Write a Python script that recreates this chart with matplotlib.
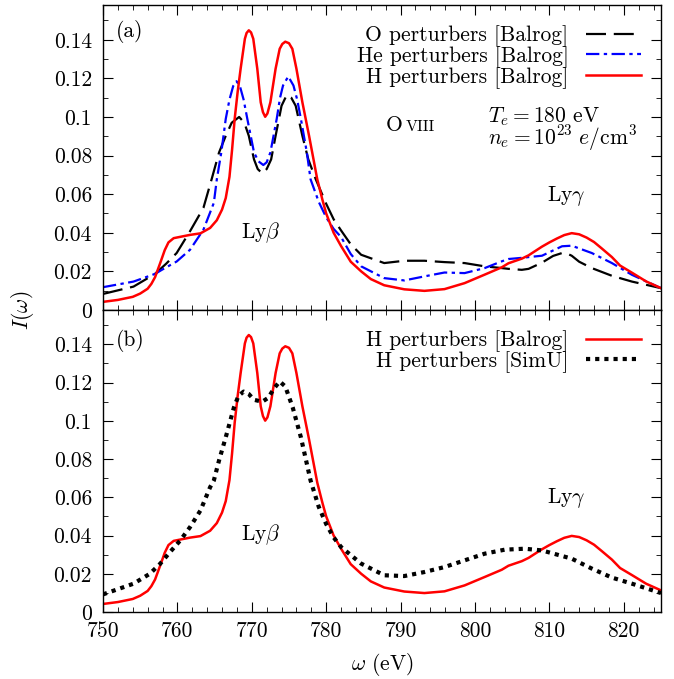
import numpy as np
import matplotlib
matplotlib.use("Agg")
import matplotlib.pyplot as plt
from matplotlib.ticker import MultipleLocator, FuncFormatter

# values
# H perturbers [Balrog] (same curve in both panels)
w_h = [750, 752, 754, 755, 756, 756.5, 757, 757.7, 758.3, 758.8, 759.5, 760.4, 761.7, 763.1,
       764.4, 765.3, 766, 766.5, 767, 767.35, 767.7, 768.1, 768.5, 769.07, 769.3, 769.6,
       769.9, 770.2, 770.74, 771.2, 771.5, 771.8, 772.1, 772.5, 773.2, 773.75, 774.1, 774.5,
       775, 775.45, 776, 776.8, 777.7, 778.8, 779.5, 780, 781, 782, 783.3, 784.7, 786, 787.8,
       790.5, 793.2, 795.9, 798.6, 801.3, 803.6, 804.5, 806.3, 807.2, 809, 810, 811, 812, 813,
       814, 815, 816, 817, 818.4, 819.5, 821.1, 823, 825]
i_h = [0.0042, 0.0052, 0.0068, 0.0085, 0.011, 0.0135, 0.017, 0.0244, 0.031, 0.035, 0.0372,
       0.0379, 0.0389, 0.0397, 0.0425, 0.0465, 0.052, 0.058, 0.069, 0.083, 0.099, 0.113, 0.125,
       0.1405, 0.1435, 0.1449, 0.1438, 0.1405, 0.125, 0.1076, 0.1025, 0.1001, 0.1018, 0.1076,
       0.125, 0.1353, 0.1378, 0.139, 0.1382, 0.1353, 0.125, 0.1076, 0.0902, 0.0677, 0.057,
       0.050, 0.040, 0.0331, 0.025, 0.020, 0.016, 0.0128, 0.0107, 0.0099, 0.0108, 0.0139,
       0.0183, 0.0221, 0.0242, 0.0266, 0.0283, 0.0328, 0.035, 0.037, 0.0388, 0.0398, 0.0392,
       0.0375, 0.0352, 0.032, 0.0274, 0.023, 0.0193, 0.0148, 0.0113]

# O perturbers [Balrog]
w_o = [750, 754.1, 757, 758.5, 759.9, 761.7, 763.5, 764.6, 765.6, 766.5, 767.3, 768.3, 769,
       769.6, 770.3, 770.8, 771.4, 772, 772.6, 773.2, 774, 774.7, 775.3, 775.9, 776.8, 777.6,
       778.6, 780, 781, 782, 783.3, 784.7, 787.8, 790.5, 793.2, 795.9, 798.6, 801.3, 803.6,
       804.5, 806.3, 807.2, 809, 810.5, 811.7, 812.5, 813, 814, 815.7, 818.4, 821.1, 825]
i_o = [0.0083, 0.0121, 0.0187, 0.024, 0.0295, 0.0408, 0.0529, 0.0677, 0.0816, 0.0902, 0.097,
       0.100, 0.097, 0.0902, 0.078, 0.073, 0.0708, 0.073, 0.078, 0.0902, 0.1058, 0.1114,
       0.110, 0.1058, 0.0902, 0.078, 0.0677, 0.055, 0.047, 0.0412, 0.034, 0.0286, 0.0243,
       0.0255, 0.0255, 0.0248, 0.0243, 0.0226, 0.0217, 0.0213, 0.0208, 0.0213, 0.0245, 0.028,
       0.0295, 0.029, 0.0281, 0.025, 0.0217, 0.0177, 0.0147, 0.0113]

# He perturbers [Balrog]
w_he = [750, 754.1, 757, 758, 759.9, 761.7, 763.5, 764.9, 765.3, 765.9, 766.5, 767, 767.5,
        767.95, 768.4, 768.9, 769.4, 770.3, 770.9, 771.55, 772, 772.5, 773.35, 773.8, 774.2,
        774.9, 775.6, 776.1, 776.6, 777.4, 777.9, 779, 780, 781, 782, 783.3, 784.7, 787.8,
        790.5, 793.2, 795.9, 798.6, 801.3, 803.6, 804.5, 806.3, 807.2, 809, 811.7, 813, 815.7,
        818.4, 821.1, 825]
i_he = [0.0118, 0.0147, 0.0187, 0.021, 0.0251, 0.0312, 0.0416, 0.0555, 0.0677, 0.0816, 0.099,
        0.109, 0.116, 0.1185, 0.116, 0.109, 0.099, 0.0816, 0.077, 0.0751, 0.0765, 0.0816,
        0.099, 0.110, 0.1163, 0.121, 0.1163, 0.109, 0.099, 0.0816, 0.0677, 0.056, 0.048,
        0.042, 0.0378, 0.029, 0.0226, 0.0165, 0.0153, 0.0174, 0.0194, 0.0191, 0.0217, 0.0252,
        0.0264, 0.0270, 0.0274, 0.0281, 0.033, 0.0333, 0.0295, 0.0243, 0.0182, 0.0113]

# H perturbers [SimU]
w_s = [750, 754.1, 756.3, 757.7, 759, 760.4, 761.7, 763.1, 764.4, 764.9, 765.6, 766.5, 767.6,
       768.2, 768.9, 769.6, 770.3, 771.4, 772.2, 773, 773.75, 774.5, 775.5, 776.6, 777.9, 779,
       780, 781, 782, 784.7, 787.8, 790.5, 793.2, 795.9, 798.6, 801.3, 804, 806.7, 809, 813,
       815.7, 818.4, 821.1, 825]
i_s = [0.0092, 0.0148, 0.020, 0.0253, 0.0313, 0.0375, 0.0444, 0.0531, 0.0653, 0.0688, 0.0793,
       0.0914, 0.107, 0.113, 0.1153, 0.114, 0.111, 0.110, 0.112, 0.117, 0.1206, 0.118, 0.107,
       0.0914, 0.0688, 0.055, 0.046, 0.039, 0.034, 0.0253, 0.0192, 0.0188, 0.0209, 0.0235,
       0.027, 0.0305, 0.0326, 0.0331, 0.0322, 0.0279, 0.0227, 0.018, 0.0148, 0.0099]

FS = 15.5

plt.rcParams.update({
    "font.family": "cmr10",
    "mathtext.fontset": "cm",
    "axes.formatter.use_mathtext": True,
    "font.size": FS,
    "axes.linewidth": 1.0,
    "xtick.direction": "in",
    "ytick.direction": "in",
    "xtick.top": True,
    "ytick.right": True,
    "xtick.major.size": 7,
    "ytick.major.size": 7,
    "xtick.minor.size": 3.5,
    "ytick.minor.size": 3.5,
})

fig = plt.figure(figsize=(6.74, 6.79), dpi=100)
ax1 = fig.add_axes([0.1528, 0.5435, 0.8279, 0.4491])
ax2 = fig.add_axes([0.1528, 0.0987, 0.8279, 0.4448], sharex=ax1)

ax1.plot(w_o, i_o, color="black", lw=1.6, dashes=(9, 3.5), label="O perturbers [Balrog]")
ax1.plot(w_he, i_he, color="blue", lw=1.6, dashes=(6, 2, 1.5, 2), label="He perturbers [Balrog]")
ax1.plot(w_h, i_h, color="red", lw=1.8, label="H perturbers [Balrog]")

ax2.plot(w_h, i_h, color="red", lw=1.8, label="H perturbers [Balrog]")
ax2.plot(w_s, i_s, color="black", lw=3, dashes=(1, 1.2), label="H perturbers [SimU]")

fmt = FuncFormatter(lambda v, p: f"{v:g}")
for ax in (ax1, ax2):
    ax.set_xlim(750, 825)
    ax.set_ylim(0, 0.158)
    ax.xaxis.set_major_locator(MultipleLocator(10))
    ax.xaxis.set_minor_locator(MultipleLocator(2))
    ax.yaxis.set_major_locator(MultipleLocator(0.02))
    ax.yaxis.set_minor_locator(MultipleLocator(0.01))
    ax.yaxis.set_major_formatter(fmt)
    ax.tick_params(which="both", labelsize=FS)
    ax.tick_params(axis="y", pad=8)
    ax.tick_params(axis="x", pad=7)
    ax.legend(loc="upper right", frameon=False, markerfirst=False, fontsize=FS,
              handlelength=2.55, handletextpad=0.8, labelspacing=-0.05,
              borderaxespad=0.6, borderpad=0.35)

ax1.text(812.3, 0.0562, r"Ly$\gamma$", ha="center", va="baseline")
ax1.text(771.2, 0.037, r"Ly$\beta$", ha="center", va="baseline")
ax2.text(812.3, 0.0568, r"Ly$\gamma$", ha="center", va="baseline")
ax2.text(771.2, 0.0375, r"Ly$\beta$", ha="center", va="baseline")

ax1.tick_params(axis="x", labelbottom=False)
ax2.xaxis.set_major_formatter(fmt)

ax1.text(753.6, 0.1442, "(a)", ha="center", va="center")
ax2.text(753.6, 0.142, "(b)", ha="center", va="center")
ax1.text(788.0, 0.0927, "O", ha="left", va="baseline")
ax1.text(790.75, 0.0927, "VIII", ha="left", va="baseline", fontsize=11.5)
ax1.text(801.8, 0.1062, "$T_e = 180$ eV\n" + r"$n_e = 10^{23}\ e/\mathrm{cm}^3$",
         ha="left", va="top", linespacing=0.78)

fig.text(0.033, 0.543, r"$I(\omega)$", rotation=90, ha="center", va="center")
fig.text(0.567, 0.022, r"$\omega$ (eV)", ha="center", va="center")

fig.savefig("out.png", dpi=100)
